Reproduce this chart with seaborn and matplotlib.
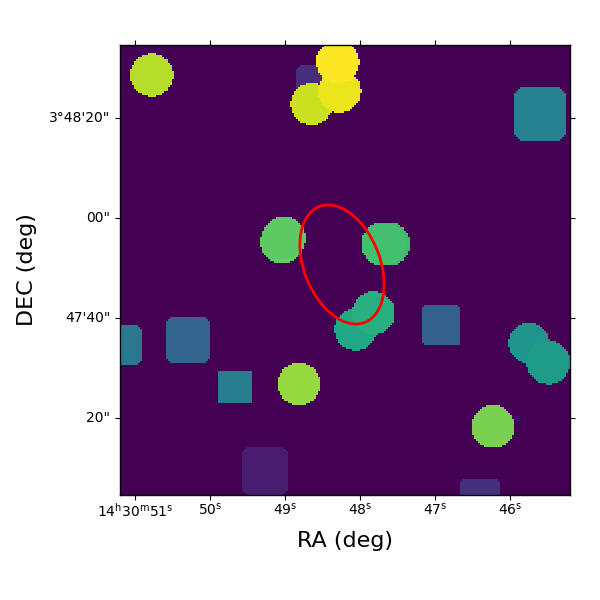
import numpy as np
import seaborn as sns
import matplotlib
matplotlib.use('Agg')
import matplotlib.pyplot as plt
from matplotlib.patches import Ellipse

# RA in seconds of 14h30m, DEC in arcsec above 3d47m00s
circle_ra = [50.777, 48.644, 48.273, 48.297, 49.04, 49.013, 47.627, 47.687, 48.059, 47.82, 45.747, 45.489, 46.227, 48.813]
circle_dec = [88.6, 82.8, 85.4, 91.26, 55.2, 56.0, 54.8, 54.8, 37.7, 41.0, 35.0, 31.1, 18.3, 26.8]
circle_rad = [4.3, 4.2, 4.3, 4.3, 4.3, 4.3, 4.4, 4.4, 4.2, 4.3, 4.1, 4.35, 4.3, 4.3]
circle_val = [0.89, 0.92, 0.97, 1.0, 0.76, 0.75, 0.69, 0.70, 0.60, 0.63, 0.52, 0.55, 0.80, 0.84]

box_ra = [48.667, 45.6, 51.187, 50.29, 49.665, 49.267, 46.909, 46.407]
box_dec = [87.6, 80.8, 34.7, 35.56, 26.14, 9.3, 38.5, 3.6]
box_hw = [2.6, 5.14, 4.1, 4.3, 3.43, 4.66, 3.83, 4.04]
box_hh = [3.2, 5.34, 4.07, 4.5, 3.2, 4.75, 4.04, 4.0]
box_cut = [0.9, 1.4, 0.9, 0.9, 0.3, 1.0, 0.6, 0.4]
box_val = [0.13, 0.44, 0.40, 0.32, 0.42, 0.08, 0.30, 0.14]

ra_ticks = [51, 50, 49, 48, 47, 46]
ra_labels = ['14$^{\\mathrm{h}}$30$^{\\mathrm{m}}$51$^{\\mathrm{s}}$', '50$^{\\mathrm{s}}$', '49$^{\\mathrm{s}}$',
             '48$^{\\mathrm{s}}$', '47$^{\\mathrm{s}}$', '46$^{\\mathrm{s}}$']
dec_ticks = [80, 60, 40, 20]
dec_labels = ['3\u00b048\'20"', '00"', '47\'40"', '20"']

ell_ra, ell_dec = 48.24, 50.7
ell_w, ell_h, ell_angle = 15.2, 24.9, -21.6

# map limits and cell size
ra_left, dec_top = 51.2, 94.6
n = 225
cell = 0.4

ra = ra_left - (np.arange(n) + 0.5) * cell / 15
dec = dec_top - (np.arange(n) + 0.5) * cell
rr, dd = np.meshgrid(ra, dec)
image = np.zeros((n, n))

# the boxes sit under the circles
for r0, d0, hw, hh, cut, v in zip(box_ra, box_dec, box_hw, box_hh, box_cut, box_val):
    dx = np.abs(rr - r0) * 15
    dy = np.abs(dd - d0)
    inside = (dx <= hw) & (dy <= hh) & (dx + dy <= hw + hh - cut)
    image[inside] = v

for r0, d0, rad, v in zip(circle_ra, circle_dec, circle_rad, circle_val):
    inside = ((rr - r0) * 15) ** 2 + (dd - d0) ** 2 <= rad ** 2
    image[inside] = v


def ra_pos(x):
    return (ra_left - np.asarray(x)) * 15 / cell


def dec_pos(y):
    return (dec_top - np.asarray(y)) / cell


fig = plt.figure(figsize=(6, 6), dpi=100)
ax = fig.add_axes([0.2, 0.175, 0.75, 0.75])
sns.heatmap(image, cmap='viridis', vmin=0, vmax=1, cbar=False, ax=ax)

for spine in ax.spines.values():
    spine.set_visible(True)
    spine.set_linewidth(1.0)
    spine.set_color('black')

ax.add_patch(Ellipse((ra_pos(ell_ra), dec_pos(ell_dec)), ell_w / cell, ell_h / cell, angle=ell_angle,
                     fill=False, edgecolor='red', linewidth=2))

ax.set_xticks(ra_pos(ra_ticks))
ax.set_xticklabels(ra_labels, rotation=0, fontsize=10)
ax.set_yticks(dec_pos(dec_ticks))
ax.set_yticklabels(dec_labels, rotation=0, fontsize=10)
ax.tick_params(top=True, right=True, bottom=True, left=True, direction='out')
ax.tick_params(axis='x', pad=1.5)

ax.set_xlabel('RA (deg)', fontsize=16, labelpad=8)
ax.set_ylabel('DEC (deg)', fontsize=16, labelpad=9)

fig.savefig('out.png', dpi=100)
